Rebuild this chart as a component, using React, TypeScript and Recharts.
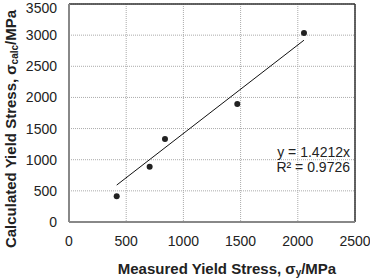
import React from 'react';
import { ComposedChart, Scatter, Line, XAxis, YAxis, CartesianGrid, ReferenceLine, ReferenceDot, Label } from 'recharts';

const measured = [417, 705, 839, 1471, 2054];
const calculated = [414, 886, 1333, 1896, 3036];
const trendX = [417, 2054];
const trendY = [593, 2919];
const xTicks = [0, 500, 1000, 1500, 2000, 2500];
const yTicks = [0, 500, 1000, 1500, 2000, 2500, 3000, 3500];
const equationText = 'y = 1.4212x';
const r2Text = 'R² = 0.9726';

const points = measured.map((x, i) => ({ x, y: calculated[i] }));
const trend = trendX.map((x, i) => ({ x, t: trendY[i] }));

const FONT = 'Liberation Sans, Arial, sans-serif';

const YTitle = (props: any) => {
  const vb = props.viewBox || {};
  const cx = 10;
  const cy = vb.y + vb.height / 2 + 16;
  return (
    <text
      x={cx}
      y={cy}
      transform={`rotate(-90, ${cx}, ${cy})`}
      textAnchor="middle"
      dominantBaseline="central"
      fontFamily={FONT}
      fontWeight="bold"
      fontSize={15}
      fill="#222"
    >
      <tspan>Calculated Yield Stress, σ</tspan>
      <tspan fontSize={10} dy={4}>calc</tspan>
      <tspan dy={-4}>/MPa</tspan>
    </text>
  );
};

const XTitle = (props: any) => {
  const vb = props.viewBox || {};
  const cx = vb.x + vb.width / 2 + 15;
  const cy = 268;
  return (
    <text
      x={cx}
      y={cy}
      textAnchor="middle"
      dominantBaseline="central"
      fontFamily={FONT}
      fontWeight="bold"
      fontSize={15}
      fill="#222"
    >
      <tspan>Measured Yield Stress, σ</tspan>
      <tspan fontSize={10} dy={4}>y</tspan>
      <tspan dy={-4}>/MPa</tspan>
    </text>
  );
};

export default function App() {
  return (
    <div style={{ position: 'absolute', left: 0, top: 0 }}>
      <ComposedChart
        width={370}
        height={278}
        margin={{ top: 4, right: 15, left: 0, bottom: 0 }}
        style={{ fontFamily: FONT }}
      >
        <CartesianGrid stroke="#aaa" strokeDasharray="1 1" />
        <XAxis
          type="number"
          dataKey="x"
          domain={[0, 2500]}
          ticks={xTicks}
          height={56}
          tickSize={0}
          tickMargin={14}
          axisLine={{ stroke: '#888', strokeWidth: 2 }}
          tick={{ fontSize: 14, fill: '#222', fontFamily: FONT }}
          allowDataOverflow
        >
          <Label content={XTitle} />
        </XAxis>
        <YAxis
          type="number"
          domain={[0, 3500]}
          ticks={yTicks}
          width={69}
          tickSize={0}
          tickMargin={12}
          axisLine={{ stroke: '#888', strokeWidth: 2 }}
          tick={{ fontSize: 14, fill: '#222', fontFamily: FONT }}
          allowDataOverflow
        >
          <Label content={YTitle} />
        </YAxis>
        <ReferenceLine y={3500} stroke="#333" strokeWidth={1.5} />
        <ReferenceLine x={2500} stroke="#333" strokeWidth={1.5} />
        <Line
          data={trend}
          dataKey="t"
          stroke="#111"
          strokeWidth={1}
          dot={false}
          activeDot={false}
          isAnimationActive={false}
        />
        <Scatter
          data={points}
          dataKey="y"
          fill="#222"
          shape={(p: any) => <circle cx={p.cx} cy={p.cy} r={3} fill="#222" />}
          isAnimationActive={false}
        />
        <ReferenceDot
          x={2500}
          y={1128}
          r={0}
          ifOverflow="visible"
          label={{ value: equationText, position: 'left', offset: 5, fontSize: 14, fill: '#222', fontFamily: FONT }}
        />
        <ReferenceDot
          x={2500}
          y={881}
          r={0}
          ifOverflow="visible"
          label={{ value: r2Text, position: 'left', offset: 5, fontSize: 14, fill: '#222', fontFamily: FONT }}
        />
      </ComposedChart>
    </div>
  );
}
